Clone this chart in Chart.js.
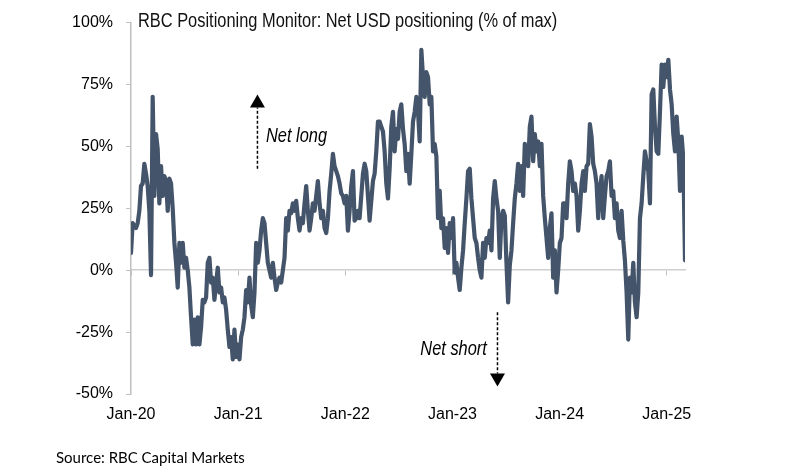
<!DOCTYPE html>
<html><head><meta charset="utf-8">
<script src="https://cdn.jsdelivr.net/npm/chart.js@4.4.1/dist/chart.umd.min.js"></script>
<style>html,body{margin:0;padding:0;background:#fff;}canvas{display:block;}</style>
</head><body>
<canvas id="c" width="800" height="471"></canvas>
<script>
const firstDate = 2020.0;     // decimal year of first observation
const lastDate = 2025.17;     // decimal year of last observation
const xTickYears = [2020, 2021, 2022, 2023, 2024, 2025];
const yTicks = [-50, -25, 0, 25, 50, 75, 100];
const titleText = 'RBC Positioning Monitor: Net USD positioning (% of max)';
const sourceText = 'Source: RBC Capital Markets';

const netUsdA = [7,19,18,17,19,24,34,35,43,39,34,24,-2,70,30,55,49,27,42,30,38,36,24,37,35,25,11,3,-7,11,3,11,1,5,0,-7,-19,-30,-20,-30,-19,-30,-23,-12,-13,-11,3,5,-5,-3,-12,-5,1,-9,-7,-13,-11,-16,-24,-31,-27,-36,-24,-35,-30,-36,-27,-24,-19,-8,-13];
const netUsdB = [-3,-14,-19,-9,11,3,8,16,21,19,11,3,0,-3,3,-3,-8,-5,-3,-5,0,5,21,16,24,23,27,24,28,21,16,21,19,27,34,24,16,21,27,24,30,36,27,21,24,17,15,21,32,39,47,42,40,38,35,31,30,27,30,16,24,34,40,20,21,24,21,30,39,43,40,30,20,28,36,39,48,60];
const netUsdC = [60,58,56,48,35,29,41,58,64,48,57,53,64,67,57,51,40,47,35,47,60,64,70,64,52,89,78,70,80,78,67,70,48,51,46,21,32,17,21,9,17,7,19,13,21,-1,3,-3,-8,1,8,19,29,40,41,29,21,13,11,5,0,-3,11,5,13,11,16,8,29,36,29,24,5,21,24,22,3,-13];
const netUsdD = [2,8,19,29,35,43,32,42,30,51,47,42,58,62,44,55,48,52,42,51,30,21,13,5,17,23,-3,8,-9,0,11,13,27,27,21,35,44,40,32,35,30,16,24,35,40,32,42,43,59,54,43,40,35,21,32,38,21,30,38,40,44,30,32,21,27,16,13,24,12,4,-9,-28,-3,-9,3,-13,-19,-9,21,27,38,48,44,40,27,71,73,58,48,47,64,83,74,83,78,85,73,67,55,48,62,52,32,54,45,4];

const netUsd = netUsdA.concat(netUsdB, netUsdC, netUsdD);
const stepYears = (lastDate - firstDate) / (netUsd.length - 1);
const points = netUsd.map((v, i) => ({ x: firstDate + i * stepYears, y: v }));

// annotations, anchored in data coordinates
const netLong = { label: 'Net long', lineX: 2021.18, lineFrom: 41, tipAt: 71, textX: 2021.26, textY: 54 };
const netShort = { label: 'Net short', lineX: 2023.42, lineFrom: -17, tipAt: -47, textX: 2022.70, textY: -32 };

const SANS = "'Liberation Sans', Arial, sans-serif";

function narrowText(ctx, text, x, y, font, sx) {
  ctx.save();
  ctx.font = font;
  ctx.textAlign = 'left';
  ctx.textBaseline = 'middle';
  ctx.translate(x, y);
  ctx.scale(sx, 1);
  ctx.fillText(text, 0, 0);
  ctx.restore();
}

const annotate = {
  id: 'annotate',
  afterDraw(chart) {
    const { ctx, scales: { x, y } } = chart;
    ctx.save();
    ctx.fillStyle = '#111';
    narrowText(ctx, titleText, 138, 21, '20px ' + SANS, 0.82);
    ctx.fillStyle = '#000';
    ctx.font = "15px Lato, 'Open Sans', sans-serif";
    ctx.textBaseline = 'middle';
    ctx.textAlign = 'left';
    ctx.fillText(sourceText, 56, 458);

    function arrow(a, up) {
      const px = x.getPixelForValue(a.lineX);
      const y0 = y.getPixelForValue(a.lineFrom);
      const tip = y.getPixelForValue(a.tipAt);
      const head = 13, half = 7.5;
      const base = up ? tip + head : tip - head;
      ctx.strokeStyle = '#000';
      ctx.lineWidth = 1.5;
      ctx.setLineDash([3, 2]);
      ctx.beginPath();
      ctx.moveTo(px, y0);
      ctx.lineTo(px, base);
      ctx.stroke();
      ctx.setLineDash([]);
      ctx.fillStyle = '#000';
      ctx.beginPath();
      ctx.moveTo(px, tip);
      ctx.lineTo(px - half, base);
      ctx.lineTo(px + half, base);
      ctx.closePath();
      ctx.fill();
      narrowText(ctx, a.label, x.getPixelForValue(a.textX), y.getPixelForValue(a.textY), 'italic 20px ' + SANS, 0.82);
    }
    arrow(netLong, true);
    arrow(netShort, false);
    ctx.restore();
  }
};

const tickFont = { family: SANS, size: 16 };

new Chart(document.getElementById('c'), {
  type: 'line',
  data: {
    datasets: [{
      data: points,
      borderColor: '#44546a',
      borderWidth: 4.2,
      pointRadius: 0,
      tension: 0,
      borderJoinStyle: 'round',
      borderCapStyle: 'round',
      fill: false
    }]
  },
  options: {
    responsive: false,
    animation: false,
    devicePixelRatio: 1,
    parsing: false,
    layout: { padding: { left: 0, right: 115, top: 22, bottom: 32 } },
    plugins: { legend: { display: false }, tooltip: { enabled: false }, title: { display: false } },
    scales: {
      x: {
        type: 'linear', position: 'bottom', min: firstDate, max: lastDate,
        grid: { display: false, drawTicks: true, tickLength: 8 }, border: { display: false },
        afterBuildTicks: s => { s.ticks = xTickYears.map(v => ({ value: v })); },
        ticks: {
          autoSkip: false, maxRotation: 0, padding: 3, color: '#000', font: tickFont,
          callback: v => 'Jan-' + String(v).slice(2)
        },
        afterFit: s => { s.height = 45; }
      },
      x2: {
        type: 'linear', position: { y: 0 }, min: firstDate, max: lastDate,
        afterBuildTicks: s => { s.ticks = xTickYears.map(v => ({ value: v })); },
        ticks: { display: false },
        grid: { drawOnChartArea: false, drawTicks: true, tickLength: 5, tickColor: '#bfbfbf' },
        border: { display: true, color: '#cfcfcf', width: 1.5 },
        afterFit: s => { s.height = 0; }
      },
      y: {
        type: 'linear', position: 'left', min: -50, max: 100,
        afterBuildTicks: s => { s.ticks = yTicks.map(v => ({ value: v })); },
        grid: { drawOnChartArea: false, drawTicks: true, tickLength: 5, tickColor: '#bfbfbf' },
        border: { display: true, color: '#bfbfbf', width: 1.5 },
        ticks: { padding: 13, color: '#000', font: tickFont, callback: v => v + '%' },
        afterFit: s => { s.width = 131; }
      }
    }
  },
  plugins: [annotate]
});
</script>
</body></html>
